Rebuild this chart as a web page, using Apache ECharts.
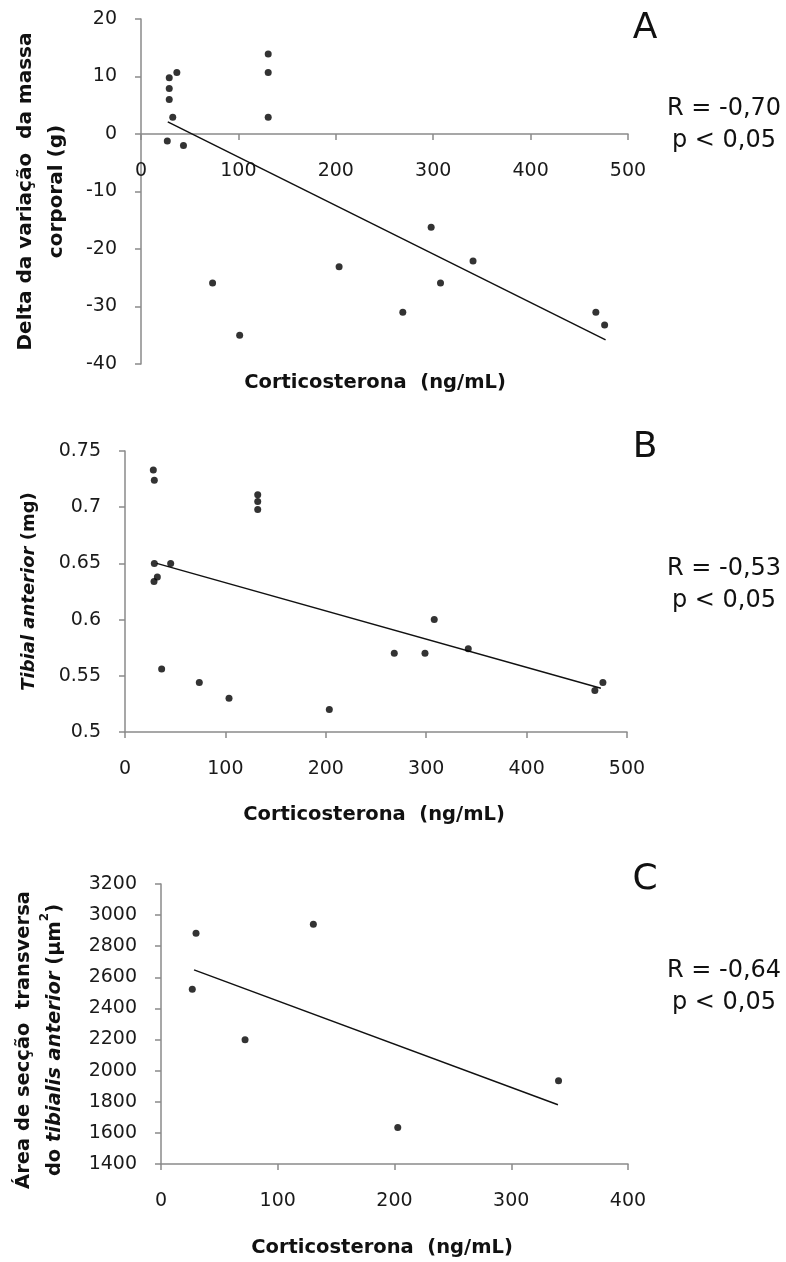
<!DOCTYPE html>
<html>
<head>
<meta charset="utf-8">
<script src="https://cdn.jsdelivr.net/npm/echarts@6/dist/echarts.min.js"></script>
<style>html,body{margin:0;padding:0;background:#fff}#c{width:786px;height:1262px}</style>
</head>
<body>
<div id="c"></div>
<script>
// Panel A: corticosterone (ng/mL) vs delta body mass (g)
const pointsA = [
  [27, -1.2], [29, 9.8], [29, 7.9], [29, 6.0], [32.6, 2.9], [36.8, 10.7], [43.6, -2.0],
  [130.6, 13.9], [130.6, 10.7], [130.6, 2.9],
  [73.5, -25.9], [101.3, -35.0], [203.4, -23.1], [268.8, -31.0], [297.9, -16.2],
  [307.5, -25.9], [340.9, -22.1], [467, -31.0], [476, -33.2]
];
const trendA = [[27.5, 2.1], [477, -35.8]];
const statsA = ['R = -0,70', 'p < 0,05'];

// Panel B: corticosterone vs tibial anterior mass (mg)
const pointsB = [
  [28.2, 0.733], [29.2, 0.724], [29.2, 0.650], [28.9, 0.634], [32.2, 0.638], [45.5, 0.650],
  [132.2, 0.711], [132.2, 0.705], [132.2, 0.698],
  [36.5, 0.556], [74, 0.544], [103.6, 0.530], [203.5, 0.520], [268.2, 0.570],
  [298.8, 0.570], [308, 0.600], [341.9, 0.574], [468, 0.537], [476, 0.544]
];
const trendB = [[31.6, 0.650], [474, 0.539]];
const statsB = ['R = -0,53', 'p < 0,05'];

// Panel C: corticosterone vs cross-sectional area (µm²)
const pointsC = [
  [26.8, 2524], [30, 2883], [130.5, 2941], [72, 2198], [202.8, 1635], [340.5, 1935]
];
const trendC = [[28.3, 2648], [340, 1781]];
const statsC = ['R = -0,64', 'p < 0,05'];

const xTitle = 'Corticosterona  (ng/mL)';
const panelLetters = ['A', 'B', 'C'];

const AX = '#8a8a8a';
const tickFont = {fontFamily: 'DejaVu Sans', fontSize: 19, color: '#1a1a1a', formatter: v => String(v)};
function xAxis(idx, max, interval, offset) {
  return {
    type: 'value', gridIndex: idx, min: 0, max: max, interval: interval, offset: offset || 0,
    axisLine: {show: true, onZero: false, lineStyle: {color: AX, width: 1.5}},
    axisTick: {show: true, length: 6, lineStyle: {color: AX, width: 1.5}},
    axisLabel: Object.assign({margin: 28}, tickFont),
    splitLine: {show: false}
  };
}
function nameFont(size) {
  return {fontFamily: 'DejaVu Sans', fontWeight: 'bold', fontSize: size, color: '#111', lineHeight: 31};
}
function richFor(size) {
  return {
    b: nameFont(size),
    i: Object.assign({fontStyle: 'italic'}, nameFont(size)),
    sup: Object.assign(nameFont(size), {fontSize: 12, verticalAlign: 'top', padding: [0, 0, 10, 0]})
  };
}
function yAxis(idx, min, max, interval, name, gap, size, pad) {
  return {
    type: 'value', gridIndex: idx, min: min, max: max, interval: interval,
    axisLine: {show: true, lineStyle: {color: AX, width: 1.5}},
    axisTick: {show: true, length: 6, lineStyle: {color: AX, width: 1.5}},
    axisLabel: Object.assign({margin: 24}, tickFont),
    splitLine: {show: false},
    name: name, nameLocation: 'middle', nameRotate: 90, nameGap: gap,
    nameTextStyle: Object.assign({padding: pad || 0, rich: richFor(size)}, nameFont(size))
  };
}

function scatter(idx, data) {
  return {type: 'scatter', xAxisIndex: idx, yAxisIndex: idx, data: data, symbol: 'circle', symbolSize: 7,
    itemStyle: {color: '#000'}, z: 3, silent: true};
}
function trend(idx, data) {
  return {type: 'line', xAxisIndex: idx, yAxisIndex: idx, data: data, symbol: 'none',
    lineStyle: {color: '#111', width: 1.5}, z: 2, silent: true};
}

const statFont = '24px "DejaVu Sans"';
function statText(lines, cx, cy) {
  return lines.map((t, k) => ({type: 'text', x: cx, y: cy + k * 32,
    style: {text: t, font: statFont, fill: '#111', textAlign: 'center', textVerticalAlign: 'middle'}}));
}
function letter(t, cx, cy) {
  return {type: 'text', x: cx, y: cy, style: {text: t, font: '36px "DejaVu Sans"', fill: '#111', textAlign: 'center', textVerticalAlign: 'middle'}};
}
function xTitleText(cx, cy) {
  return {type: 'text', x: cx, y: cy, style: {text: xTitle, font: 'bold 19.5px "DejaVu Sans"', fill: '#111', textAlign: 'center', textVerticalAlign: 'middle'}};
}

const chart = echarts.init(document.getElementById('c'), null, {renderer: 'canvas'});
chart.setOption({
  animation: false,
  backgroundColor: '#fff',
  grid: [
    {left: 141, top: 19, width: 487, height: 345},
    {left: 125, top: 451, width: 502, height: 281},
    {left: 161, top: 884, width: 467, height: 280}
  ],
  // Panel A x axis sits at y = 0: shifted up by (0 - min) / (max - min) of the grid height
  xAxis: [xAxis(0, 500, 100, -345 * 40 / 60), xAxis(1, 500, 100), xAxis(2, 400, 100)],
  yAxis: [
    yAxis(0, -40, 20, 10, '{b|Delta da variação  da massa}\n{b|corporal (g)}', 69, 20),
    yAxis(1, 0.5, 0.75, 0.05, '{i|Tibial anterior} {b|(mg)}', 80, 18),
    yAxis(2, 1400, 3200, 200, '{b|Área de secção  transversa}\n{b|do }{i|tibialis anterior}{b| (µm}{sup|2}{b|)}', 91, 19.5, [0, 32, 0, 0])
  ],
  series: [
    scatter(0, pointsA), trend(0, trendA),
    scatter(1, pointsB), trend(1, trendB),
    scatter(2, pointsC), trend(2, trendC)
  ],
  graphic: [
    letter(panelLetters[0], 645, 29),
    letter(panelLetters[1], 645, 448),
    letter(panelLetters[2], 645, 880),
    ...statText(statsA, 724, 109),
    ...statText(statsB, 724, 569),
    ...statText(statsC, 724, 971),
    xTitleText(375, 383),
    xTitleText(374, 815),
    xTitleText(382, 1248)
  ]
});
</script>
</body>
</html>
